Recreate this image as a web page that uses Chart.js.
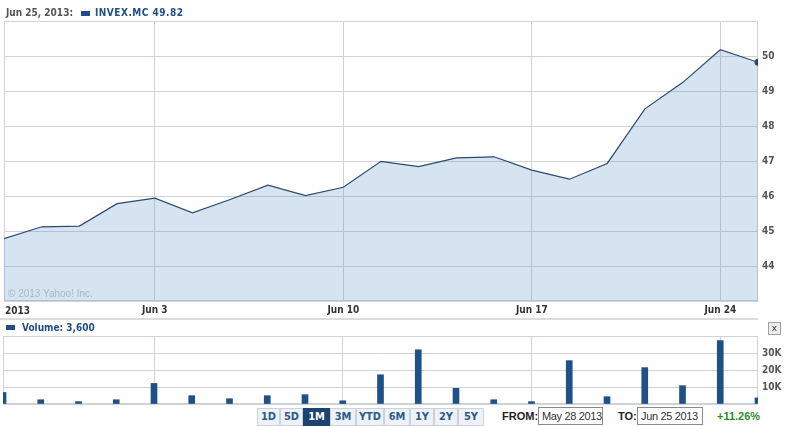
<!DOCTYPE html>
<html><head><meta charset="utf-8">
<script src="https://cdn.jsdelivr.net/npm/chart.js@4/dist/chart.umd.min.js"></script>
<style>
html,body{margin:0;padding:0;background:#fff;width:802px;height:426px;overflow:hidden;}
body{position:relative;font-family:"DejaVu Sans Condensed","DejaVu Sans",sans-serif;}
.abs{position:absolute;white-space:nowrap;}
#priceCanvas{position:absolute;left:0;top:0;}
#volCanvas{position:absolute;left:0;top:320px;}
.hdr{font-size:10px;font-weight:bold;line-height:13px;}
.sq{position:absolute;background:#1f4e85;}
.btn{position:absolute;top:408px;height:16px;line-height:16px;border:1px solid #c9d3de;background:#eef2f7;color:#2d5a8a;font-size:11px;font-weight:bold;text-align:center;box-sizing:content-box;white-space:nowrap;}
.btn.sel{background:#1d446f;color:#fff;border-color:#1d446f;}
.lbl{font-family:"Liberation Sans",Arial,sans-serif;font-size:11px;line-height:17px;}
.box{position:absolute;top:407px;height:18px;border:1px solid #8a8a8a;font-family:"Liberation Sans",Arial,sans-serif;font-size:11px;line-height:16px;color:#333;padding-left:3px;box-sizing:border-box;white-space:nowrap;overflow:hidden;letter-spacing:-0.35px;}
</style>
</head><body>
<canvas id="priceCanvas" width="802" height="319"></canvas>
<canvas id="volCanvas" width="802" height="86"></canvas>

<div class="abs hdr" style="left:6px;top:6px;color:#555;">Jun 25, 2013:</div>
<div class="sq" style="left:81px;top:11px;width:9px;height:5px;"></div>
<div class="abs hdr" style="left:95px;top:6px;color:#1f4e85;letter-spacing:0.5px;">INVEX.MC 49.82</div>

<div class="abs" style="left:8px;top:288px;font-family:'Liberation Sans',Arial,sans-serif;font-size:10px;color:#a9b6c4;">© 2013 Yahoo! Inc.</div>
<div class="abs hdr" id="yearLbl" style="left:5px;top:304px;color:#333;">2013</div>

<div class="abs" style="left:0;top:318px;width:758px;height:2px;background:#dcdcdc;"></div>
<div class="sq" style="left:6px;top:325px;width:9px;height:5px;"></div>
<div class="abs hdr" style="left:22px;top:321px;color:#1f4e85;">Volume: 3,600</div>
<div class="abs" style="left:768px;top:322px;width:11px;height:11px;border:1px solid #a0a0a0;background:#ececec;font-family:'DejaVu Sans',sans-serif;font-size:9px;line-height:10px;text-align:center;color:#333;">x</div>

<div class="btn" style="left:257px;width:21px;">1D</div>
<div class="btn" style="left:280px;width:21px;">5D</div>
<div class="btn sel" style="left:303px;width:25px;">1M</div>
<div class="btn" style="left:330px;width:24px;">3M</div>
<div class="btn" style="left:356px;width:26px;">YTD</div>
<div class="btn" style="left:384px;width:24px;">6M</div>
<div class="btn" style="left:410px;width:22px;">1Y</div>
<div class="btn" style="left:434px;width:22px;">2Y</div>
<div class="btn" style="left:458px;width:24px;">5Y</div>

<div class="abs lbl" style="left:502px;top:408px;font-weight:bold;color:#222;">FROM:</div>
<div class="box" style="left:538px;width:65px;">May 28 2013</div>
<div class="abs lbl" style="left:618px;top:408px;font-weight:bold;color:#222;">TO:</div>
<div class="box" style="left:637px;width:66px;">Jun 25 2013</div>
<div class="abs lbl" style="left:717px;top:408px;font-weight:bold;color:#2e8b2e;">+11.26%</div>

<script>
// ---- data ----
const tradingDays = ['May 28','May 29','May 30','May 31','Jun 3','Jun 4','Jun 5','Jun 6','Jun 7',
  'Jun 10','Jun 11','Jun 12','Jun 13','Jun 14','Jun 17','Jun 18','Jun 19','Jun 20','Jun 21','Jun 24','Jun 25'];
const prices = [44.78,45.12,45.14,45.78,45.94,45.52,45.90,46.31,46.01,
  46.25,46.99,46.84,47.09,47.12,46.74,46.48,46.93,48.49,49.24,50.18,49.82];
const volumes = [6800,2500,1400,2500,12100,4900,3100,4900,5500,
  1900,17200,31900,9200,2500,1400,25500,4300,21400,10800,37300,3600];
const xTickIndex = [0,4,9,14,19];
const xTickLabels = ['2013','Jun 3','Jun 10','Jun 17','Jun 24'];
const priceTicks = [44,45,46,47,48,49,50];
const volumeTicks = [10000,20000,30000];

// ---- style ----
const FONT = '"DejaVu Sans Condensed","DejaVu Sans",sans-serif';
const GRID = '#cfd3d8';
const LINE = '#2b4a70';
const FILL = 'rgba(87,147,195,0.25)';
const BAR = '#1f5088';

const frame = {
  id:'frame',
  beforeDatasetsDraw(chart){
    const {ctx, chartArea:a} = chart;
    ctx.save();
    ctx.strokeStyle = GRID; ctx.lineWidth = 1;
    ctx.strokeRect(a.left+0.5, a.top+0.5, a.right-a.left-1, a.bottom-a.top-1);
    ctx.restore();
  }
};

const xTicksBuild = s => { s.ticks = xTickIndex.map(v => ({value:v})); };

new Chart(document.getElementById('priceCanvas'), {
  type:'line',
  data:{datasets:[{
    data: prices.map((v,i)=>({x:i, y:v})),
    borderColor: LINE, borderWidth: 1.2, backgroundColor: FILL,
    fill:'start', tension:0,
    pointRadius: c => c.dataIndex === prices.length-1 ? 3.5 : 0,
    pointBackgroundColor: LINE, pointBorderWidth: 0
  }]},
  options:{
    responsive:false, animation:false, events:[],
    layout:{padding:{left:3, top:21, right:0, bottom:0}},
    plugins:{legend:{display:false}, tooltip:{enabled:false}},
    scales:{
      x:{type:'linear', min:0, max:prices.length-1,
        afterBuildTicks: xTicksBuild,
        afterFit: s => { s.height = 18; },
        ticks:{autoSkip:false, maxRotation:0, padding:3, color:'#333',
          font:{family:FONT, size:10, weight:'bold'},
          callback: v => { const k = xTickIndex.indexOf(v); return k > 0 ? xTickLabels[k] : ''; }},
        grid:{color:GRID, drawTicks:false}, border:{display:false}},
      y:{position:'right', min:43, max:51,
        afterBuildTicks: s => { s.ticks = [43, ...priceTicks, 51].map(v => ({value:v})); },
        afterFit: s => { s.width = 44; },
        ticks:{padding:4, color:'#555', font:{family:FONT, size:10, weight:'bold'},
          callback: v => priceTicks.includes(v) ? String(v) : ''},
        grid:{color:GRID, drawTicks:false}, border:{display:false}}
    }
  },
  plugins:[frame]
});

new Chart(document.getElementById('volCanvas'), {
  type:'bar',
  data:{datasets:[{
    data: volumes.map((v,i)=>({x:i, y:v})),
    backgroundColor: BAR, barThickness: 6, clip: 0
  }]},
  options:{
    responsive:false, animation:false, events:[],
    layout:{padding:{left:3, top:16, right:0, bottom:2}},
    plugins:{legend:{display:false}, tooltip:{enabled:false}},
    scales:{
      x:{type:'linear', min:0, max:volumes.length-1, offset:false,
        afterBuildTicks: xTicksBuild,
        afterFit: s => { s.height = 0; s.paddingLeft = 0; s.paddingRight = 0; },
        ticks:{display:false},
        grid:{color:GRID, drawTicks:false, offset:false}, border:{display:false}},
      y:{position:'right', min:0, max:40000,
        afterBuildTicks: s => { s.ticks = [0, ...volumeTicks, 40000].map(v => ({value:v})); },
        afterFit: s => { s.width = 44; s.paddingTop = 0; s.paddingBottom = 0; },
        ticks:{padding:4, color:'#555', font:{family:FONT, size:10, weight:'bold'},
          callback: v => volumeTicks.includes(v) ? (v/1000) + 'K' : ''},
        grid:{color:GRID, drawTicks:false}, border:{display:false}}
    }
  },
  plugins:[frame]
});
</script>
</body></html>
